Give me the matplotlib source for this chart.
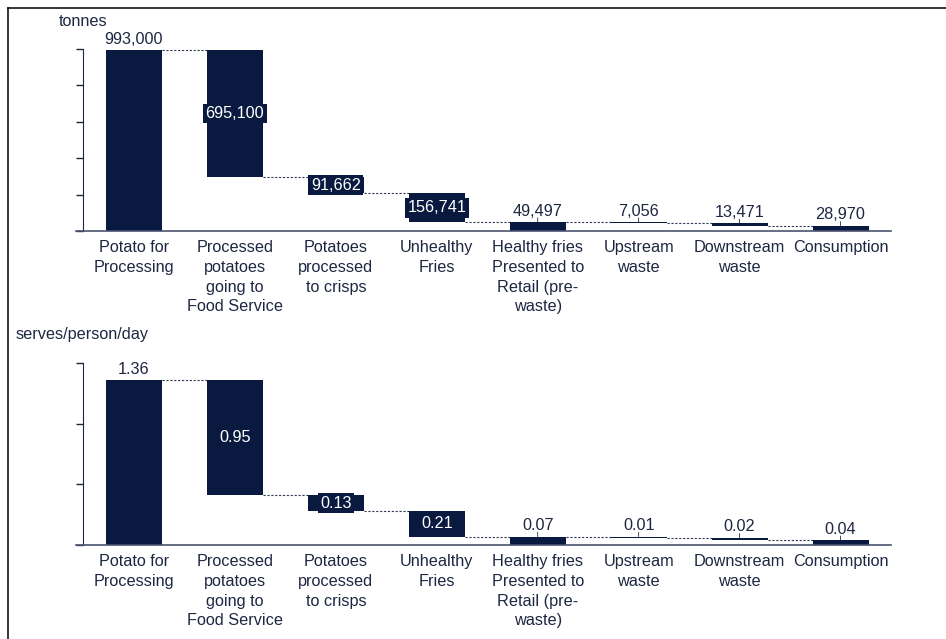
import matplotlib.pyplot as plt
from matplotlib.lines import Line2D
import numpy as np

plt.rcParams['font.family'] = ['Liberation Sans', 'DejaVu Sans']

categories = ["Potato for\nProcessing", "Processed\npotatoes\ngoing to\nFood Service",
              "Potatoes\nprocessed\nto crisps", "Unhealthy\nFries",
              "Healthy fries\nPresented to\nRetail (pre-\nwaste)", "Upstream\nwaste",
              "Downstream\nwaste", "Consumption"]
is_total = [True, False, False, False, True, False, False, True]

tonnes = [993000, 695100, 91662, 156741, 49497, 7056, 13471, 28970]
tonnes_labels = ["993,000", "695,100", "91,662", "156,741", "49,497", "7,056", "13,471", "28,970"]

serves = [1.36, 0.95, 0.13, 0.21, 0.07, 0.01, 0.02, 0.04]
serves_labels = ["1.36", "0.95", "0.13", "0.21", "0.07", "0.01", "0.02", "0.04"]

BAR = '#0a1940'
TXT = '#1d2742'
FS = 11.7
W, H = 946, 639


def waterfall(ax, vals, labels, ymax, nticks):
    x = np.arange(len(vals))
    bottoms, tops = [], []
    level = 0
    for v, tot in zip(vals, is_total):
        if tot:
            bottoms.append(0)
            tops.append(v)
            level = v
        else:
            bottoms.append(level - v)
            tops.append(level)
            level = level - v
    bottoms = np.array(bottoms)
    tops = np.array(tops)
    ax.bar(x, tops - bottoms, bottom=bottoms, width=0.555, color=BAR, zorder=2)

    # dashed connectors between neighbouring bars
    for i in range(len(vals) - 1):
        lvl = tops[i] if is_total[i] else bottoms[i]
        ax.plot([x[i] + 0.2775, x[i + 1] - 0.2775], [lvl, lvl], ls=(0, (2, 1.5)),
                lw=0.8, color='#333a50', zorder=1)

    for i, lab in enumerate(labels):
        h = tops[i] - bottoms[i]
        if not is_total[i] and h > 0.08 * ymax:
            ax.text(x[i], (tops[i] + bottoms[i]) / 2, lab, ha='center', va='center',
                    color='white', fontsize=FS, zorder=3,
                    bbox=dict(boxstyle='square,pad=0.15', fc=BAR, ec='none'))
        else:
            ax.annotate(lab, (x[i], tops[i]), xytext=(0, 2.5), textcoords='offset points',
                        ha='center', va='bottom', color=TXT, fontsize=FS)
            if h < 0.2 * ymax:
                ax.annotate('', (x[i], tops[i]), xytext=(0, 3), textcoords='offset points',
                            arrowprops=dict(arrowstyle='-', color=TXT, lw=0.6,
                                            shrinkA=0, shrinkB=0))

    ax.set_xlim(-0.574, 7.5)
    ax.set_ylim(0, ymax)
    ax.set_yticks(np.linspace(0, ymax, nticks))
    ax.set_yticklabels([])
    ax.tick_params(axis='y', length=5, width=1, color='#1d2742', direction='out')
    ax.set_xticks(x)
    ax.set_xticklabels(categories, fontsize=FS, color=TXT, linespacing=1.4)
    ax.tick_params(axis='x', length=0, pad=6.5)
    for s in ['top', 'right']:
        ax.spines[s].set_visible(False)
    ax.spines['left'].set_position(('data', -0.5))
    ax.spines['left'].set_color('#1d2742')
    ax.spines['bottom'].set_color('#4a5370')
    ax.spines['bottom'].set_linewidth(1.2)


fig = plt.figure(figsize=(9.46, 6.39), dpi=100)
left = 76 / W
width = (891 - 76) / W

ax1 = fig.add_axes([left, 1 - 231 / H, width, (231 - 49) / H])
waterfall(ax1, tonnes, tonnes_labels, 1000000, 6)

ax2 = fig.add_axes([left, 1 - 545 / H, width, (545 - 363) / H])
waterfall(ax2, serves, serves_labels, 1.5, 4)

fig.text(59 / W, 1 - 21 / H, "tonnes", fontsize=FS, color=TXT, ha='left', va='center')
fig.text(16 / W, 1 - 335 / H, "serves/person/day", fontsize=FS, color=TXT,
         ha='left', va='center')

# frame lines along the left and top edges
fig.add_artist(Line2D([8 / W, 8 / W], [0, 1 - 8 / H], color='black', lw=1.1))
fig.add_artist(Line2D([8 / W, 1], [1 - 8 / H, 1 - 8 / H], color='black', lw=1.1))

fig.savefig('out.png', dpi=100)
